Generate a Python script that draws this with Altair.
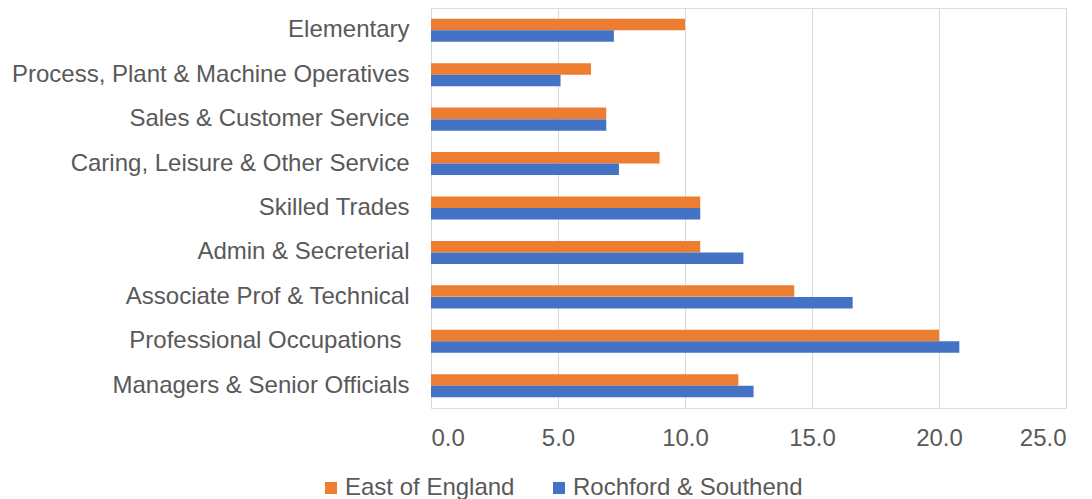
import altair as alt
import pandas as pd

categories = [
    "Elementary",
    "Process, Plant & Machine Operatives",
    "Sales & Customer Service",
    "Caring, Leisure & Other Service",
    "Skilled Trades",
    "Admin & Secreterial",
    "Associate Prof & Technical",
    "Professional Occupations",
    "Managers & Senior Officials",
]
east_of_england = [10.0, 6.3, 6.9, 9.0, 10.6, 10.6, 14.3, 20.0, 12.1]
rochford_southend = [7.2, 5.1, 6.9, 7.4, 10.6, 12.3, 16.6, 20.8, 12.7]
series = ["East of England", "Rochford & Southend"]
colors = ["#ED7D31", "#4472C4"]
x_ticks = [0, 5, 10, 15, 20, 25]

rows = []
for c, e, r in zip(categories, east_of_england, rochford_southend):
    rows.append({"category": c, "series": series[0], "value": e})
    rows.append({"category": c, "series": series[1], "value": r})
df = pd.DataFrame(rows)

FONT = "Liberation Sans"
FS = 24

chart = (
    alt.Chart(df)
    .mark_bar(size=11.5)
    .encode(
        y=alt.Y(
            "category:N",
            sort=categories,
            scale=alt.Scale(paddingInner=0.48, paddingOuter=0.24),
            axis=alt.Axis(
                title=None,
                ticks=False,
                domain=False,
                labelFontSize=FS,
                labelColor="#595959",
                labelFont=FONT,
                labelPadding={
                    "condition": {
                        "test": "datum.value == 'Professional Occupations'",
                        "value": 30,
                    },
                    "value": 22,
                },
                labelLimit=600,
            ),
        ),
        yOffset=alt.YOffset("series:N", sort=series),
        x=alt.X(
            "value:Q",
            scale=alt.Scale(domain=[0, 25], nice=False),
            axis=alt.Axis(
                title=None,
                values=x_ticks,
                format=".1f",
                ticks=False,
                domain=False,
                grid=True,
                gridColor="#D9D9D9",
                gridWidth=1,
                labelFontSize=FS,
                labelColor="#595959",
                labelFont=FONT,
                labelPadding=18,
            ),
        ),
        color=alt.Color(
            "series:N",
            sort=series,
            scale=alt.Scale(domain=series, range=colors),
            legend=alt.Legend(
                title=None,
                orient="none",
                direction="horizontal",
                legendX=-112,
                legendY=468,
                symbolType="square",
                symbolSize=144,
                symbolStrokeWidth=0,
                labelFontSize=FS,
                labelColor="#595959",
                labelFont=FONT,
                labelLimit=400,
                columnPadding=32,
                labelOffset=2,
            ),
        ),
    )
    .properties(
        width=635,
        height=400,
        autosize=alt.AutoSizeParams(type="none"),
        padding={"left": 431, "top": 8, "right": 26, "bottom": 91},
    )
    .configure_view(stroke=None)
    .configure(background="white")
)

chart.save("out.html", embed_options={"renderer": "svg", "actions": False})
